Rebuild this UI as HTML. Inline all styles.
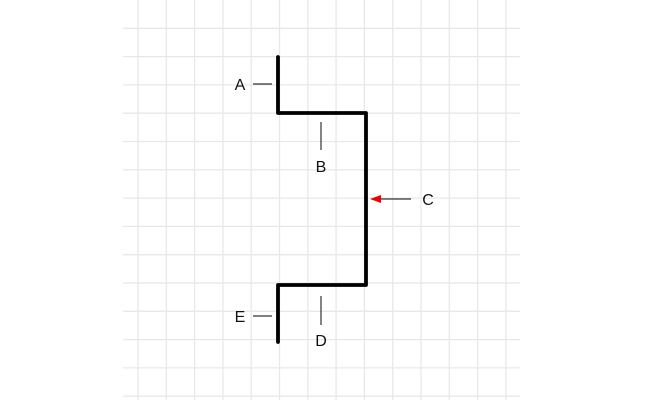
<!DOCTYPE html>
<html><head><style>html,body{margin:0;padding:0;background:#fff}</style></head><body>
<svg width="645" height="400" xmlns="http://www.w3.org/2000/svg" font-family="Liberation Sans, sans-serif">
<g stroke="#e8e8e8" stroke-width="1.3">
<line x1="138" y1="0" x2="138" y2="400"/><line x1="166.3" y1="0" x2="166.3" y2="400"/><line x1="194.6" y1="0" x2="194.6" y2="400"/><line x1="222.9" y1="0" x2="222.9" y2="400"/><line x1="251.2" y1="0" x2="251.2" y2="400"/><line x1="279.5" y1="0" x2="279.5" y2="400"/><line x1="307.8" y1="0" x2="307.8" y2="400"/><line x1="336.1" y1="0" x2="336.1" y2="400"/><line x1="364.4" y1="0" x2="364.4" y2="400"/><line x1="392.7" y1="0" x2="392.7" y2="400"/><line x1="421" y1="0" x2="421" y2="400"/><line x1="449.3" y1="0" x2="449.3" y2="400"/><line x1="477.6" y1="0" x2="477.6" y2="400"/><line x1="505.9" y1="0" x2="505.9" y2="400"/>
<line x1="123" y1="28.3" x2="520" y2="28.3"/><line x1="123" y1="56.6" x2="520" y2="56.6"/><line x1="123" y1="84.9" x2="520" y2="84.9"/><line x1="123" y1="113.2" x2="520" y2="113.2"/><line x1="123" y1="141.5" x2="520" y2="141.5"/><line x1="123" y1="169.8" x2="520" y2="169.8"/><line x1="123" y1="198.1" x2="520" y2="198.1"/><line x1="123" y1="226.4" x2="520" y2="226.4"/><line x1="123" y1="254.7" x2="520" y2="254.7"/><line x1="123" y1="283" x2="520" y2="283"/><line x1="123" y1="311.3" x2="520" y2="311.3"/><line x1="123" y1="339.6" x2="520" y2="339.6"/><line x1="123" y1="367.9" x2="520" y2="367.9"/><line x1="123" y1="396.2" x2="520" y2="396.2"/>
</g>
<path d="M278 57 V113 H366 V285 H278 V342" fill="none" stroke="#000" stroke-width="3.8" stroke-linejoin="round" stroke-linecap="round"/>
<g stroke="#333" stroke-width="1.2">
<line x1="253" y1="84" x2="272" y2="84"/>
<line x1="321" y1="122" x2="321" y2="150"/>
<line x1="253" y1="316" x2="272" y2="316"/>
<line x1="321" y1="296" x2="321" y2="325"/>
<line x1="378" y1="199" x2="411" y2="199"/>
</g>
<polygon points="370,199 381,195 381,203" fill="#e00"/>
<g font-size="16" fill="#111" text-anchor="middle">
<text x="240" y="90">A</text>
<text x="321" y="172">B</text>
<text x="428" y="205">C</text>
<text x="321" y="346">D</text>
<text x="240" y="322">E</text>
</g>
</svg>
</body></html>
